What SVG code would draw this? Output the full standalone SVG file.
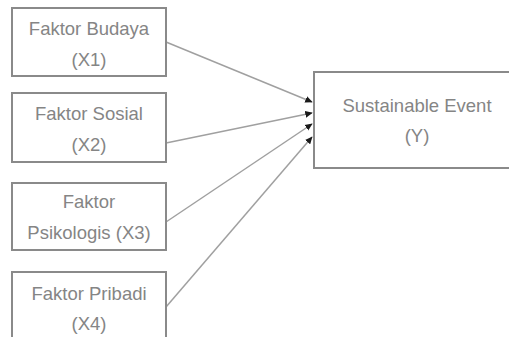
<svg xmlns="http://www.w3.org/2000/svg" width="509" height="337" viewBox="0 0 509 337">
<defs>
<style>
.box{fill:#fff;stroke:#8a8a8a;stroke-width:2}
.t{font-family:"Liberation Sans",Arial,sans-serif;font-size:18.5px;fill:#858585;text-anchor:middle}
.c{stroke:#a0a0a0;stroke-width:1.5;fill:none;marker-end:url(#ah)}
</style>
<marker id="ah" viewBox="0 0 10 10" refX="9" refY="5" markerWidth="5" markerHeight="5" orient="auto" markerUnits="strokeWidth">
<path d="M0,0.5 L10,5 L0,9.5 z" fill="#1a1a1a"/>
</marker>
</defs>
<rect width="509" height="337" fill="#fff"/>
<g id="connectors">
<line class="c" x1="166" y1="42" x2="312" y2="102"/>
<line class="c" x1="166" y1="143" x2="312" y2="113"/>
<line class="c" x1="166" y1="222" x2="312" y2="124"/>
<line class="c" x1="166" y1="307" x2="312" y2="137"/>
</g>
<g id="x1">
<rect class="box" x="12" y="8" width="154" height="68"/>
<text class="t" x="89" y="35">Faktor Budaya</text>
<text class="t" x="89" y="66">(X1)</text>
</g>
<g id="x2">
<rect class="box" x="12" y="93" width="154" height="69"/>
<text class="t" x="89" y="120">Faktor Sosial</text>
<text class="t" x="89" y="151">(X2)</text>
</g>
<g id="x3">
<rect class="box" x="12" y="183" width="154" height="67"/>
<text class="t" x="89" y="208">Faktor</text>
<text class="t" x="89" y="239">Psikologis (X3)</text>
</g>
<g id="x4">
<rect class="box" x="12" y="272" width="154" height="80"/>
<text class="t" x="89" y="300">Faktor Pribadi</text>
<text class="t" x="89" y="330">(X4)</text>
</g>
<g id="y">
<rect class="box" x="314" y="72" width="210" height="96"/>
<text class="t" x="417" y="112">Sustainable Event</text>
<text class="t" x="417" y="142">(Y)</text>
</g>
</svg>
